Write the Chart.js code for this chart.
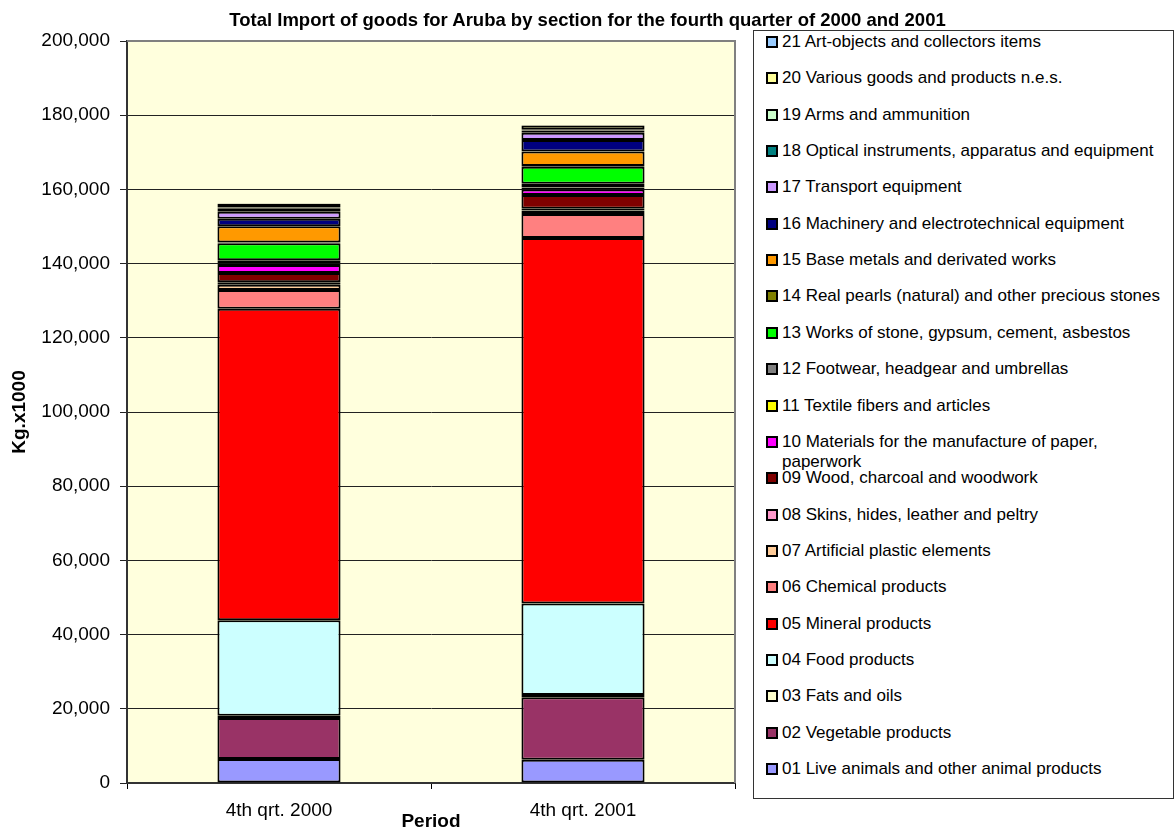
<!DOCTYPE html>
<html lang="en">

<head>
    <meta charset="UTF-8">
    <title>Total Import of goods for Aruba</title>
    <script src="https://cdn.jsdelivr.net/npm/chart.js"></script>

    <style>
        body {
            margin: 0;
            font-family: "Liberation Sans", Arial, sans-serif;
            background-color: #ffffff;
        }

        .wrap {
            position: relative;
            width: 1175px;
            height: 827px;
            overflow: hidden;
        }

        .title {
            position: absolute;
            left: 0;
            width: 1175px;
            top: 8px;
            text-align: center;
            font-weight: bold;
            font-size: 18.5px;
            line-height: 24px;
            color: #000;
        }

        .legend {
            position: absolute;
            left: 753px;
            top: 30px;
            width: 419px;
            height: 767px;
            border: 1px solid #333;
            background-color: #ffffff;
        }

        .legend-item {
            position: absolute;
            left: 12px;
            font-size: 17px;
            line-height: 20px;
            color: #000;
        }

        .legend-box {
            position: absolute;
            left: 0;
            top: 4px;
            width: 8px;
            height: 8px;
            border: 2px solid #000;
        }

        .legend-text {
            position: absolute;
            left: 16px;
            width: 384px;
        }
    </style>
</head>

<body>
    <div class="wrap">
        <canvas id="grafico" width="1175" height="827"></canvas>
        <div class="title">Total Import of goods for Aruba by section for the fourth quarter of 2000 and 2001</div>
        <div class="legend" id="legenda"></div>
    </div>

    <script>
        const categories = ['4th qrt. 2000', '4th qrt. 2001'];

        const sections = [
            '01 Live animals and other animal products',
            '02 Vegetable products',
            '03 Fats and oils',
            '04 Food products',
            '05 Mineral products',
            '06 Chemical products',
            '07 Artificial plastic elements',
            '08 Skins, hides, leather and peltry',
            '09 Wood, charcoal and woodwork',
            '10 Materials for the manufacture of paper, paperwork',
            '11 Textile fibers and articles',
            '12 Footwear, headgear and umbrellas',
            '13 Works of stone, gypsum, cement, asbestos',
            '14 Real pearls (natural) and other precious stones',
            '15 Base metals and derivated works',
            '16 Machinery and electrotechnical equipment',
            '17 Transport equipment',
            '18 Optical instruments, apparatus and equipment',
            '19 Arms and ammunition',
            '20 Various goods and products n.e.s.',
            '21 Art-objects and collectors items'
        ];

        const sectionColors = [
            '#9999FF', '#993366', '#FFFFCC', '#CCFFFF', '#FF0000', '#FF8080', '#FFCC99',
            '#FF99CC', '#800000', '#FF00FF', '#FFFF00', '#808080', '#00FF00', '#808000',
            '#FF9900', '#000080', '#CC99FF', '#008080', '#CCFFCC', '#FFFF99', '#99CCFF'
        ];

        // Kg x 1000
        const values2000 = [6500, 11000, 600, 25800, 83900, 5100, 1400, 700, 2500, 2100, 400,
            900, 4600, 200, 4400, 2000, 1900, 800, 300, 1000, 100];
        const values2001 = [6300, 16800, 600, 24700, 98500, 6500, 900, 500, 3700, 1500, 500,
            1000, 4600, 200, 3900, 3100, 2000, 600, 200, 1100, 100];

        const yTicks = [0, 20000, 40000, 60000, 80000, 100000, 120000, 140000, 160000, 180000, 200000];

        const datasets = sections.map((nome, i) => ({
            label: nome,
            data: [values2000[i], values2001[i]],
            backgroundColor: sectionColors[i],
            borderColor: '#000000',
            borderWidth: 2,
            borderSkipped: false,
            barPercentage: 0.405,
            categoryPercentage: 1
        }));

        // fundo amarelo e borda cinza da area do grafico
        const plotArea = {
            id: 'plotArea',
            beforeDraw(chart) {
                const { ctx, chartArea: a } = chart;
                ctx.save();
                ctx.fillStyle = '#FFFFDD';
                ctx.fillRect(a.left, a.top, a.right - a.left, a.bottom - a.top);
                ctx.restore();
            },
            afterDraw(chart) {
                const { ctx, chartArea: a } = chart;
                ctx.save();
                ctx.strokeStyle = '#808080';
                ctx.lineWidth = 2;
                ctx.beginPath();
                ctx.moveTo(a.left, a.top);
                ctx.lineTo(a.right, a.top);
                ctx.lineTo(a.right, a.bottom);
                ctx.stroke();
                ctx.restore();
            }
        };

        const ctx = document.getElementById('grafico').getContext('2d');
        const chart = new Chart(ctx, {
            type: 'bar',
            data: {
                labels: categories,
                datasets: datasets
            },
            plugins: [plotArea],
            options: {
                responsive: false,
                animation: false,
                layout: { padding: { left: 0, top: 41, right: 440, bottom: 0 } },
                plugins: {
                    legend: { display: false },
                    tooltip: { enabled: false }
                },
                scales: {
                    x: {
                        stacked: true,
                        afterFit: s => { s.height = 44; },
                        border: { color: '#333333', width: 2 },
                        grid: { drawOnChartArea: false, tickLength: 6, color: '#000000' },
                        ticks: {
                            color: '#000000',
                            padding: 10,
                            font: { family: 'Liberation Sans', size: 19 }
                        },
                        title: {
                            display: true,
                            text: 'Period',
                            color: '#000000',
                            padding: { top: 0, bottom: -4.5 },
                            font: { family: 'Liberation Sans', size: 19, weight: 'bold', lineHeight: 1 }
                        }
                    },
                    y: {
                        stacked: true,
                        min: 0,
                        max: 200000,
                        afterFit: s => { s.width = 127; },
                        afterBuildTicks: s => { s.ticks = yTicks.map(v => ({ value: v })); },
                        border: { color: '#333333', width: 2 },
                        grid: { color: '#222222', lineWidth: 1, tickLength: 7 },
                        ticks: {
                            color: '#000000',
                            padding: 10,
                            font: { family: 'Liberation Sans', size: 19 },
                            callback: v => v.toLocaleString('en-US')
                        },
                        title: {
                            display: true,
                            text: 'Kg.x1000',
                            color: '#000000',
                            padding: { top: 10, bottom: 0 },
                            font: { family: 'Liberation Sans', size: 19, weight: 'bold', lineHeight: 1 }
                        }
                    }
                }
            }
        });

        // legenda montada a partir dos mesmos arrays (21 em cima, 01 embaixo)
        const legenda = document.getElementById('legenda');
        for (let k = 0; k < sections.length; k++) {
            const i = sections.length - 1 - k;
            const item = document.createElement('div');
            item.className = 'legend-item';
            item.style.top = (41 - 30 - 10 + k * 36.35) + 'px';
            item.innerHTML = '<span class="legend-box" style="background-color:' + sectionColors[i] + '"></span>' +
                '<span class="legend-text">' + sections[i] + '</span>';
            legenda.appendChild(item);
        }
    </script>
</body>

</html>
